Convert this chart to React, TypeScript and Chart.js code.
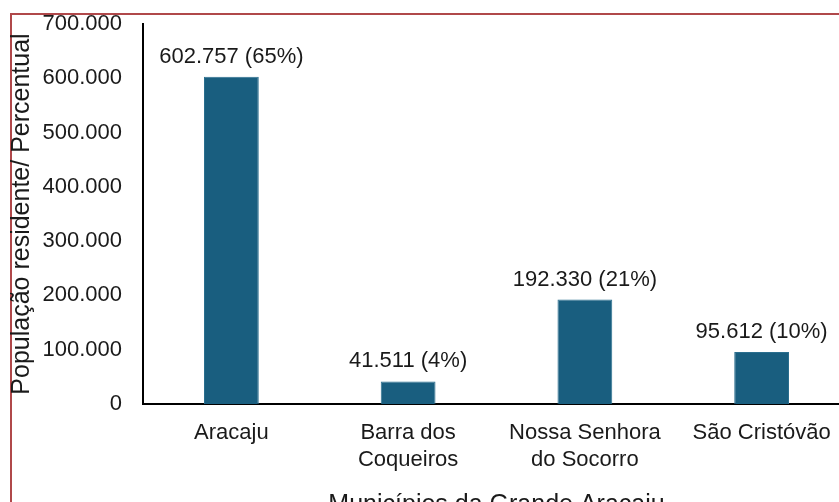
import React, { useEffect, useRef } from "react";
import { Chart, registerables } from "chart.js";

Chart.register(...registerables);

const categories: string[][] = [["Aracaju"], ["Barra dos", "Coqueiros"], ["Nossa Senhora", "do Socorro"], ["São Cristóvão"]];
const population: number[] = [602757, 41511, 192330, 95612];
const percentages: number[] = [65, 4, 21, 10];
const yTickValues: number[] = [0, 100000, 200000, 300000, 400000, 500000, 600000, 700000];

const BAR_COLOR = "#195e7f";
const TEXT_COLOR = "#1a1a1a";
const FONT = "'Liberation Sans', Arial, sans-serif";

function fmt(n: number): string {
  const s = Math.round(n).toString();
  return s.replace(/\B(?=(\d{3})+(?!\d))/g, ".");
}

const CANVAS_W = 870;
const CANVAS_H = 530;

export default function App() {
  const ref = useRef<HTMLCanvasElement | null>(null);

  useEffect(() => {
    if (!ref.current) return;
    const labelPlugin = {
      id: "barLabels",
      afterDatasetsDraw(chart: any) {
        const ctx = chart.ctx;
        const meta = chart.getDatasetMeta(0);
        ctx.save();
        ctx.font = `22px ${FONT}`;
        ctx.fillStyle = TEXT_COLOR;
        ctx.textAlign = "center";
        ctx.textBaseline = "alphabetic";
        meta.data.forEach((el: any, i: number) => {
          const txt = `${fmt(population[i])} (${percentages[i]}%)`;
          ctx.fillText(txt, el.x, el.y - 14);
        });
        ctx.restore();
      },
    };
    const chart = new Chart(ref.current, {
      type: "bar",
      data: {
        labels: categories,
        datasets: [
          {
            data: population,
            backgroundColor: BAR_COLOR,
            borderColor: "#2b6f8f",
            borderWidth: 1,
            categoryPercentage: 1,
            barPercentage: 0.31,
          },
        ],
      },
      options: {
        animation: false,
        responsive: false,
        maintainAspectRatio: false,
        layout: { padding: { left: 0, right: 20, top: 24, bottom: 0 } },
        plugins: {
          legend: { display: false },
          tooltip: { enabled: false },
        },
        scales: {
          x: {
            grid: { display: false, drawTicks: false },
            border: { display: true, color: "#000", width: 2 },
            ticks: {
              color: TEXT_COLOR,
              font: { size: 22, family: FONT, lineHeight: 1.22 },
              padding: 16,
              autoSkip: false,
              maxRotation: 0,
            },
            title: {
              display: true,
              text: "Municípios da Grande Aracaju",
              color: TEXT_COLOR,
              font: { size: 25, family: FONT },
              padding: { top: 0, bottom: 10 },
            },
            afterFit(scale: any) {
              scale.height = 126;
              scale.paddingLeft = 0;
              scale.paddingRight = 0;
            },
          },
          y: {
            min: 0,
            max: 700000,
            grid: { display: false, drawTicks: false },
            border: { display: true, color: "#000", width: 2 },
            afterBuildTicks(scale: any) {
              scale.ticks = yTickValues.map((v) => ({ value: v }));
            },
            ticks: {
              color: TEXT_COLOR,
              font: { size: 22, family: FONT },
              padding: 21,
              callback: (v: any) => fmt(Number(v)),
            },
            title: {
              display: true,
              text: "População residente/ Percentual",
              color: TEXT_COLOR,
              font: { size: 25, family: FONT },
              padding: { top: 7, bottom: 0 },
            },
            afterFit(scale: any) {
              scale.width = 143;
              scale.paddingTop = 0;
              scale.paddingBottom = 0;
            },
          },
        },
      },
      plugins: [labelPlugin],
    } as any);
    return () => chart.destroy();
  }, []);

  return (
    <div
      style={{
        position: "fixed",
        left: 0,
        top: 0,
        width: 839,
        height: 502,
        overflow: "hidden",
        background: "#fff",
      }}
    >
      <div
        style={{
          position: "absolute",
          left: 10,
          top: 13,
          width: 900,
          height: 600,
          borderTop: "2px solid #b0484a",
          borderLeft: "2px solid #b0484a",
        }}
      />
      <canvas
        ref={ref}
        width={CANVAS_W}
        height={CANVAS_H}
        style={{ position: "absolute", left: 0, top: 0, width: CANVAS_W, height: CANVAS_H }}
      />
    </div>
  );
}
